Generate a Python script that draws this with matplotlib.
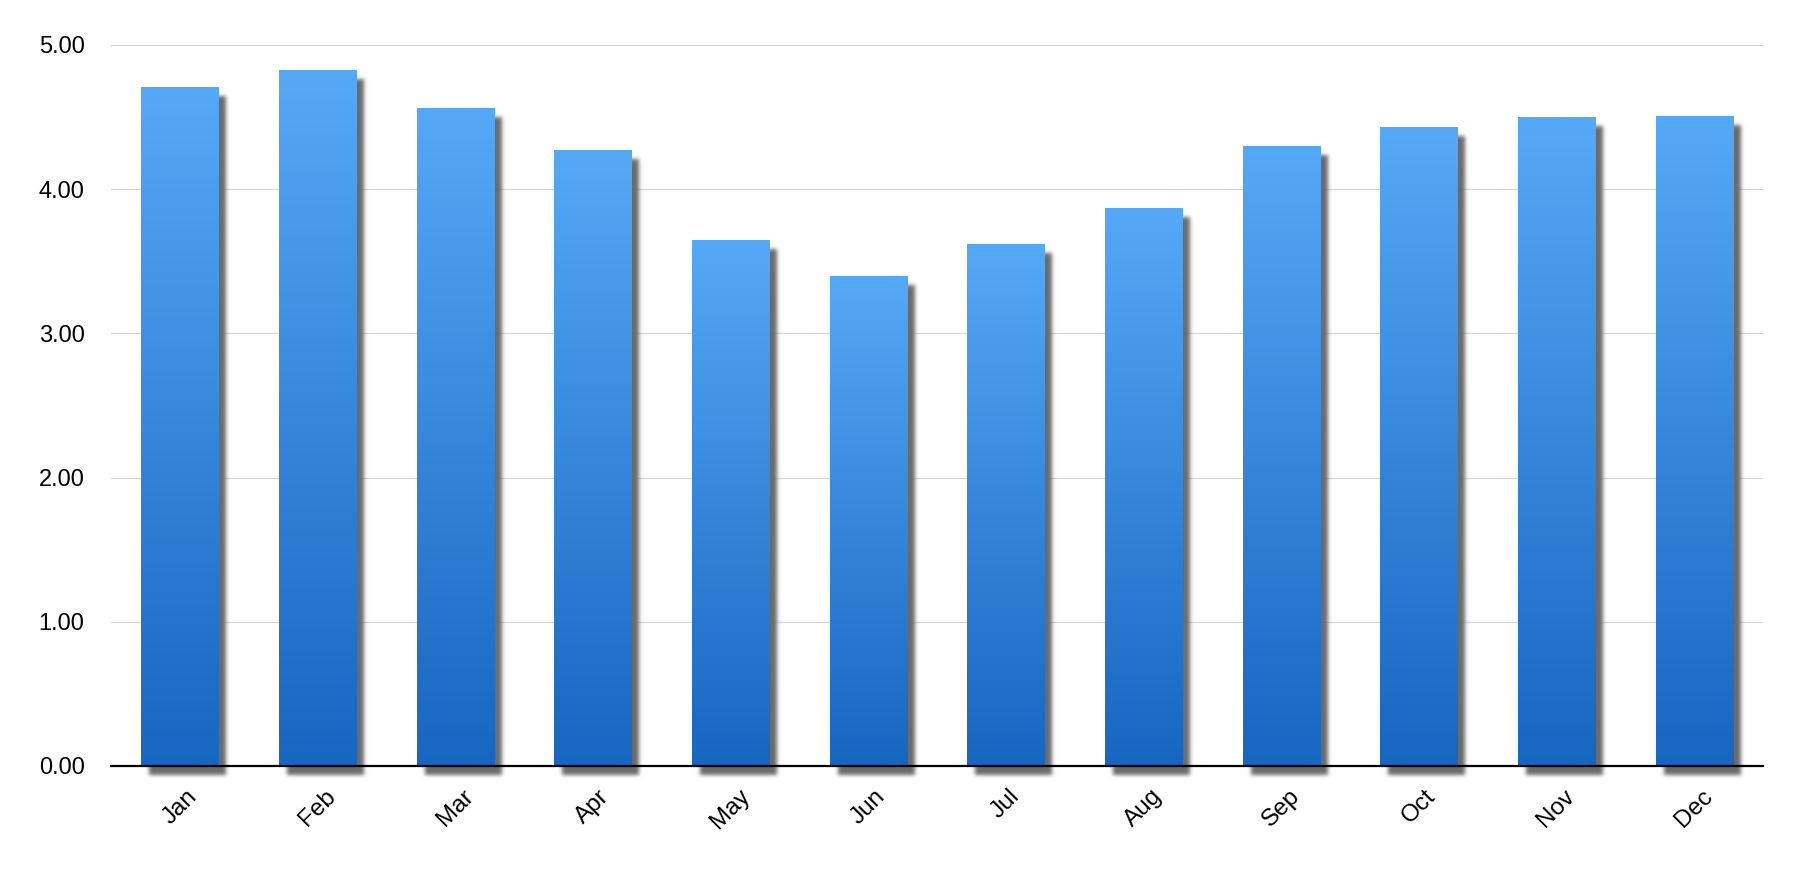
import numpy as np
import matplotlib
matplotlib.use("Agg")
import matplotlib.pyplot as plt
import matplotlib.transforms as mtransforms
from matplotlib.colors import LinearSegmentedColormap

months = ["Jan", "Feb", "Mar", "Apr", "May", "Jun", "Jul", "Aug", "Sep", "Oct", "Nov", "Dec"]
values = [4.71, 4.83, 4.56, 4.27, 3.65, 3.40, 3.62, 3.87, 4.30, 4.43, 4.50, 4.51]
yticks = [0, 1, 2, 3, 4, 5]
ytick_labels = ["0.00", "1.00", "2.00", "3.00", "4.00", "5.00"]

plt.rcParams["font.family"] = ["Liberation Sans", "DejaVu Sans"]

W, H, DPI = 1806, 874, 100
fig = plt.figure(figsize=(W / DPI, H / DPI), dpi=DPI)
ax = fig.add_axes([111 / W, 108 / H, (1763 - 111) / W, (766 - 45) / H])

x = np.arange(len(months))
bar_w = 0.56

SHADOW_GRAY = np.array([0x6a, 0x6a, 0x6a]) / 255.0


def blur_filter(im, dpi):
    pad = 8
    h, w, _ = im.shape
    a = np.zeros((h + 2 * pad, w + 2 * pad))
    a[pad:pad + h, pad:pad + w] = im[..., 3]
    sigma = 2.0
    r = 6
    k = np.exp(-0.5 * (np.arange(-r, r + 1) / sigma) ** 2)
    k /= k.sum()
    b = np.zeros_like(a)
    for i, kv in enumerate(k):
        b += kv * np.roll(a, i - r, axis=0)
    c = np.zeros_like(b)
    for i, kv in enumerate(k):
        c += kv * np.roll(b, i - r, axis=1)
    out = np.zeros((h + 2 * pad, w + 2 * pad, 4))
    out[..., 0] = SHADOW_GRAY[0]
    out[..., 1] = SHADOW_GRAY[1]
    out[..., 2] = SHADOW_GRAY[2]
    out[..., 3] = c
    return out, -pad, -pad


# shadows
shadow_tr = mtransforms.offset_copy(ax.transData, fig=fig, x=8, y=-9, units="dots")
shadows = ax.bar(x, values, bar_w, color=SHADOW_GRAY, transform=shadow_tr,
                 zorder=2, clip_on=False, linewidth=0)
for p in shadows:
    p.set_agg_filter(blur_filter)
    p.set_rasterized(True)

# gradient bars
cmap = LinearSegmentedColormap.from_list("barg", ["#1766c0", "#55a9f6"])
grad = np.linspace(0, 1, 256).reshape(-1, 1)
bars = ax.bar(x, values, bar_w, color="none", linewidth=0, zorder=3)
for b in bars:
    x0 = b.get_x()
    x1 = x0 + b.get_width()
    h = b.get_height()
    im = ax.imshow(grad, extent=[x0, x1, 0, h], origin="lower", aspect="auto",
                   cmap=cmap, zorder=3, interpolation="bilinear")
    im.set_clip_path(b)

ax.set_xlim(-0.5, len(months) - 0.5)
ax.set_ylim(0, 5)
ax.set_aspect("auto")

ax.set_yticks(yticks)
ax.set_yticklabels(ytick_labels, fontsize=17)
ax.set_xticks(x)
ax.set_xticklabels(months, fontsize=17.5, rotation=45, ha="center", va="top")
label_shift = mtransforms.ScaledTranslation(2 / DPI, 0, fig.dpi_scale_trans)
for lbl in ax.get_xticklabels():
    lbl.set_transform(lbl.get_transform() + label_shift)
ax.tick_params(axis="y", length=0, pad=19)
ax.tick_params(axis="x", length=0, pad=14)

ax.yaxis.grid(True, color="#d4d4d4", linewidth=0.8)
ax.set_axisbelow(True)
for s in ["left", "right", "top"]:
    ax.spines[s].set_visible(False)
ax.spines["bottom"].set_color("black")
ax.spines["bottom"].set_linewidth(1.6)
ax.spines["bottom"].set_zorder(4)

fig.savefig("out.png", dpi=DPI, facecolor="white")
